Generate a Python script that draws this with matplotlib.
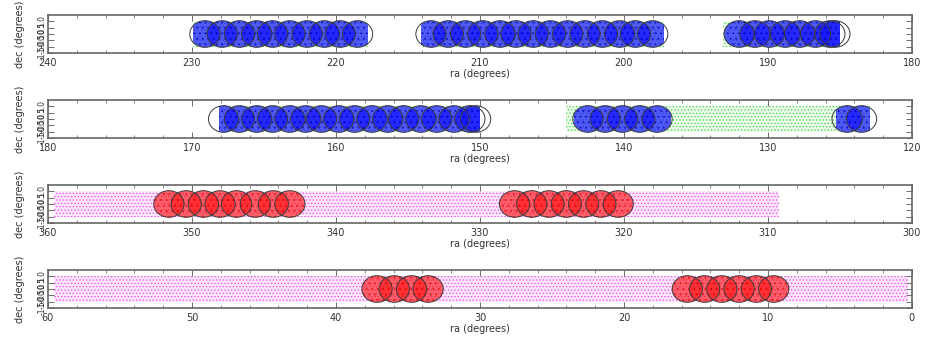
import matplotlib.pyplot as plt
from matplotlib.patches import Circle, Rectangle
from matplotlib.ticker import MultipleLocator

# ra range shown in each strip (left edge, right edge)
ra_limits = [(240, 180), (180, 120), (360, 300), (60, 0)]

# extent in ra of the background point fields (start, end)
green_fields = [
    [(229.9, 217.8), (214.1, 197.2), (193.1, 185.0)],
    [(168.1, 150.0), (144.0, 122.9)],
    [],
    [],
]
magenta_fields = [
    [],
    [],
    [(359.6, 309.2)],
    [(59.6, 0.3)],
]

# extent in ra of the dense (selected) points
blue_fields = [
    [(229.9, 217.8), (214.1, 197.2), (193.1, 185.0)],
    [(168.1, 150.0), (143.5, 136.7), (125.3, 122.9)],
    [],
    [],
]

# ra of the pointing centres (circles)
circle_ra = [
    [229.1, 227.9, 226.7, 225.5, 224.4, 223.2, 222.0, 220.8, 219.7, 218.5,
     213.4, 212.2, 211.0, 209.8, 208.6, 207.5, 206.3, 205.1, 203.9, 202.7,
     201.5, 200.3, 199.2, 198.0,
     192.0, 190.9, 189.9, 188.8, 187.8, 186.7, 185.7, 185.35],
    [167.8, 166.7, 165.5, 164.4, 163.2, 162.1, 161.0, 159.8, 158.7, 157.5,
     156.4, 155.3, 154.1, 153.0, 151.8, 150.7, 150.3,
     142.5, 141.3, 140.1, 138.9, 137.7,
     124.5, 123.5],
    [351.6, 350.4, 349.2, 348.05, 346.9, 345.6, 344.35, 343.2,
     327.6, 326.4, 325.2, 324.0, 322.8, 321.6, 320.4],
    [37.15, 35.95, 34.75, 33.6,
     15.6, 14.4, 13.2, 12.0, 10.8, 9.6],
]
dense_colors = ['blue', 'blue', 'red', 'red']

dec_ticks = [-1.5, -1.0, -0.5, 0.0, 0.5, 1.0]

dec_half = 1.05
radius = 1.05

plt.rcParams['hatch.linewidth'] = 0.6

fig = plt.figure(figsize=(9.26, 3.40), dpi=100)
bottoms = [0.8441, 0.5941, 0.3441, 0.0941]


def add_field(ax, ra0, ra1, face, hatch_color):
    ax.add_patch(Rectangle((ra1, -dec_half), ra0 - ra1, 2 * dec_half,
                           facecolor=face, edgecolor=hatch_color, linewidth=0,
                           hatch='.....', zorder=1))


for i, ax_bottom in enumerate(bottoms):
    ax = fig.add_axes([0.0518, ax_bottom, 0.933, 0.1118])
    ax.set_xlim(*ra_limits[i])
    ax.set_ylim(-1.5, 1.5)

    for ra0, ra1 in green_fields[i]:
        add_field(ax, ra0, ra1, '#f0fcf0', '#44dd44')
    for ra0, ra1 in magenta_fields[i]:
        add_field(ax, ra0, ra1, '#fce8fc', '#f050f0')

    if dense_colors[i] == 'blue':
        for ra0, ra1 in blue_fields[i]:
            clip = Rectangle((ra1, -1.5), ra0 - ra1, 3.0, transform=ax.transData)
            for ra in circle_ra[i]:
                if ra1 - radius <= ra <= ra0 + radius:
                    c = Circle((ra, 0), radius, facecolor='#1414ff', edgecolor='#0000bb',
                               linewidth=0, alpha=0.7, hatch='...', zorder=2)
                    ax.add_patch(c)
                    c.set_clip_path(clip)
    else:
        for ra in circle_ra[i]:
            ax.add_patch(Circle((ra, 0), radius, facecolor='#ff1a1a', edgecolor='#dd0000',
                                linewidth=0, alpha=0.65, hatch='...', zorder=2))

    for ra in circle_ra[i]:
        ax.add_patch(Circle((ra, 0), radius, fill=False, edgecolor='#3a3a3a',
                            linewidth=0.7, zorder=3))

    ax.xaxis.set_major_locator(MultipleLocator(10))
    ax.xaxis.set_minor_locator(MultipleLocator(2))
    ax.set_yticks(dec_ticks)
    ax.set_yticklabels(['%.1f' % d for d in dec_ticks],
                       rotation=90, va='center', fontsize=5.5)
    ax.tick_params(which='both', direction='in', top=True, right=True,
                   colors='#555555', labelcolor='#333333')
    ax.tick_params(axis='x', labelsize=7)
    ax.tick_params(which='major', length=4, width=0.6)
    ax.tick_params(which='minor', length=2, width=0.5)
    ax.tick_params(axis='y', pad=1)
    for s in ax.spines.values():
        s.set_color('#666666')
        s.set_linewidth(1.2)
    ax.set_xlabel('ra (degrees)', fontsize=7, color='#333333', labelpad=1)
    ax.set_ylabel('dec (degrees)', fontsize=7, color='#333333', labelpad=9)

fig.savefig('out.png', dpi=100)
